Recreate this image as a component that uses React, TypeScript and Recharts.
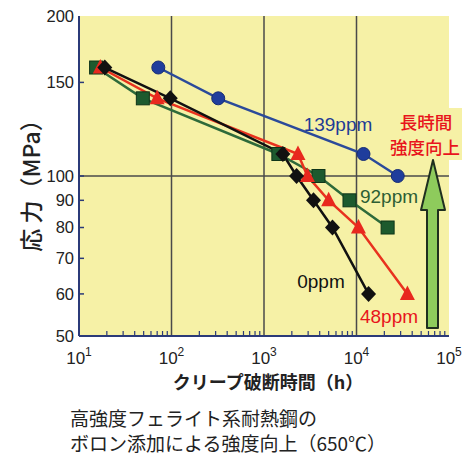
import React from 'react';
import { LineChart, Line, XAxis, YAxis, CartesianGrid, ReferenceLine } from 'recharts';

// creep rupture time (h) vs stress (MPa), 650°C
const ppm139 = [
  { x: 72, y: 160 },
  { x: 320, y: 140 },
  { x: 11900, y: 110 },
  { x: 27900, y: 100 },
];
const ppm92 = [
  { x: 15.3, y: 160 },
  { x: 49, y: 140 },
  { x: 1430, y: 110 },
  { x: 3880, y: 100 },
  { x: 8400, y: 90 },
  { x: 21700, y: 80 },
];
const ppm48 = [
  { x: 17, y: 160 },
  { x: 70, y: 140 },
  { x: 2330, y: 110 },
  { x: 2950, y: 100 },
  { x: 5000, y: 90 },
  { x: 10500, y: 80 },
  { x: 35500, y: 60 },
];
const ppm0 = [
  { x: 19, y: 160 },
  { x: 97, y: 140 },
  { x: 1600, y: 110 },
  { x: 2250, y: 100 },
  { x: 3430, y: 90 },
  { x: 5500, y: 80 },
  { x: 13500, y: 60 },
];

const xTicks = [
  10, 20, 30, 40, 50, 60, 70, 80, 90,
  100, 200, 300, 400, 500, 600, 700, 800, 900,
  1000, 2000, 3000, 4000, 5000, 6000, 7000, 8000, 9000,
  10000, 20000, 30000, 40000, 50000, 60000, 70000, 80000, 90000,
  100000,
];
const yTicks = [50, 60, 70, 80, 90, 100, 150, 200];
const xGrid = [100, 1000, 10000];

const NAVY = '#2b3a78';
const TICK_FONT = '"Liberation Sans", Arial, sans-serif';
const JP_FONT = '"Noto Sans CJK JP", sans-serif';

const isDecade = (v: number) => Math.abs(Math.log10(v) - Math.round(Math.log10(v))) < 1e-6;

const BottomTick = (props: any) => {
  const { x, y, payload } = props;
  const v = payload.value;
  const exp = Math.round(Math.log10(v));
  return (
    <g>
      {!isDecade(v) && <line x1={x} x2={x} y1={y} y2={y - 5} stroke={NAVY} strokeWidth={1.2} />}
      {isDecade(v) && (
        <text x={x} y={y + 28} textAnchor="middle" fontFamily={TICK_FONT} fontSize={17} fill="#222">
          10<tspan dy={-8} fontSize={12}>{exp}</tspan>
        </text>
      )}
    </g>
  );
};

const TopTick = (props: any) => {
  const { x, y, payload } = props;
  if (isDecade(payload.value)) return <g />;
  return <line x1={x} x2={x} y1={y} y2={y + 5} stroke={NAVY} strokeWidth={1.2} />;
};

const LeftTick = (props: any) => {
  const { x, y, payload } = props;
  const v = payload.value;
  const edge = v === 50 || v === 200;
  return (
    <g>
      {!edge && <line x1={x} x2={x + 5} y1={y} y2={y} stroke={NAVY} strokeWidth={1.5} />}
      <text x={x - 5} y={y} dy="0.36em" textAnchor="end" fontFamily={TICK_FONT} fontSize={16.5} fill="#222">
        {v}
      </text>
    </g>
  );
};

const RightTick = (props: any) => {
  const { x, y, payload } = props;
  const v = payload.value;
  if (v === 50 || v === 200) return <g />;
  return <line x1={x} x2={x - 5} y1={y} y2={y} stroke={NAVY} strokeWidth={1.5} />;
};

const circleDot = (p: any) => (
  <circle key={p.key} cx={p.cx} cy={p.cy} r={6.5} fill="#1f3d9c" stroke="#162c74" strokeWidth={1} />
);
const squareDot = (p: any) => (
  <rect key={p.key} x={p.cx - 6.5} y={p.cy - 6.5} width={13} height={13} fill="#1d5a2e" stroke="#0f3519" strokeWidth={1} />
);
const triangleDot = (p: any) => (
  <polygon
    key={p.key}
    points={`${p.cx},${p.cy - 8.5} ${p.cx + 7.5},${p.cy + 6} ${p.cx - 7.5},${p.cy + 6}`}
    fill="#e8281e"
  />
);
const diamondDot = (p: any) => (
  <polygon
    key={p.key}
    points={`${p.cx},${p.cy - 8} ${p.cx + 7.5},${p.cy} ${p.cx},${p.cy + 8} ${p.cx - 7.5},${p.cy}`}
    fill="#111"
  />
);

const App: React.FC = () => {
  return (
    <div style={{ position: 'absolute', left: 0, top: 0, width: 462, height: 456, background: '#fff' }}>
      <LineChart width={462} height={456} margin={{ top: 16, right: 13, left: 0, bottom: 90 }}>
        <CartesianGrid fill="#f6f1a6" stroke="none" />
        <XAxis
          dataKey="x"
          type="number"
          scale="log"
          domain={[10, 100000]}
          allowDataOverflow
          ticks={xTicks}
          interval={0}
          height={30}
          tickSize={0}
          tickMargin={0}
          tickLine={false}
          axisLine={{ stroke: NAVY, strokeWidth: 2 }}
          tick={BottomTick}
        />
        <XAxis
          xAxisId="top"
          orientation="top"
          type="number"
          scale="log"
          domain={[10, 100000]}
          allowDataOverflow
          ticks={xTicks}
          interval={0}
          height={0}
          tickSize={0}
          tickMargin={0}
          tickLine={false}
          axisLine={{ stroke: NAVY, strokeWidth: 2 }}
          tick={TopTick}
        />
        <YAxis
          dataKey="y"
          type="number"
          scale="log"
          domain={[50, 200]}
          allowDataOverflow
          ticks={yTicks}
          interval={0}
          width={79}
          tickSize={0}
          tickMargin={0}
          tickLine={false}
          axisLine={{ stroke: NAVY, strokeWidth: 2 }}
          tick={LeftTick}
        />
        <YAxis
          yAxisId="r"
          orientation="right"
          type="number"
          scale="log"
          domain={[50, 200]}
          allowDataOverflow
          ticks={yTicks}
          interval={0}
          width={0}
          tickSize={0}
          tickMargin={0}
          tickLine={false}
          axisLine={{ stroke: NAVY, strokeWidth: 2 }}
          tick={RightTick}
        />
        {xGrid.map((g) => (
          <ReferenceLine key={g} x={g} stroke="#4a4a4a" strokeWidth={1.5} />
        ))}
        <ReferenceLine y={100} stroke="#4a4a4a" strokeWidth={1.5} />
        <Line data={ppm139} dataKey="y" stroke="#2b4a9a" strokeWidth={2.5} dot={circleDot} isAnimationActive={false} />
        <Line data={ppm92} dataKey="y" stroke="#2e6a3a" strokeWidth={2.5} dot={squareDot} isAnimationActive={false} />
        <Line data={ppm48} dataKey="y" stroke="#e8321e" strokeWidth={2.5} dot={triangleDot} isAnimationActive={false} />
        <Line data={ppm0} dataKey="y" stroke="#111" strokeWidth={2.5} dot={diamondDot} isAnimationActive={false} />
      </LineChart>
      <svg width={462} height={456} style={{ position: 'absolute', left: 0, top: 0, pointerEvents: 'none' }}>
        <text x={338} y={124} dy="0.36em" textAnchor="middle" fontFamily={TICK_FONT} fontSize={19} fill="#1e3c96">139ppm</text>
        <text x={389} y={196} dy="0.36em" textAnchor="middle" fontFamily={TICK_FONT} fontSize={19} fill="#2d5e34">92ppm</text>
        <text x={321} y={281} dy="0.36em" textAnchor="middle" fontFamily={TICK_FONT} fontSize={19} fill="#111">0ppm</text>
        <text x={389} y={316} dy="0.36em" textAnchor="middle" fontFamily={TICK_FONT} fontSize={19} fill="#e8141c">48ppm</text>
        <rect x={387} y={108} width={75} height={52} fill="#f6f1a6" />
        <text x={426} y={123} dy="0.36em" textAnchor="middle" fontFamily={JP_FONT} fontWeight={500} fontSize={17.5} fill="#e8141c">長時間</text>
        <text x={425} y={148} dy="0.36em" textAnchor="middle" fontFamily={JP_FONT} fontWeight={500} fontSize={17.5} fill="#e8141c">強度向上</text>
        <polygon
          points="433,160 445,210 438,210 438,328 427,328 427,210 421,210"
          fill="#8ecb5c"
          stroke="#1f2f1f"
          strokeWidth={2}
          strokeLinejoin="round"
        />
        <text
          x={32}
          y={180}
          dy="0.36em"
          textAnchor="middle"
          transform="rotate(-90 32 180)"
          fontFamily={JP_FONT}
          fontWeight={500}
          fontSize={23}
          fill="#222"
        >
          応 力（MPa）
        </text>
        <text x={268} y={383} dy="0.36em" textAnchor="middle" fontFamily={JP_FONT} fontWeight={700} fontSize={18} fill="#222">
          クリープ破断時間（h）
        </text>
        <text x={70} y={419} dy="0.36em" fontFamily={JP_FONT} fontSize={19} fill="#222">
          高強度フェライト系耐熱鋼の
        </text>
        <text x={70} y={444} dy="0.36em" fontFamily={JP_FONT} fontSize={19} fill="#222">
          ボロン添加による強度向上（650℃）
        </text>
      </svg>
    </div>
  );
};

export default App;
